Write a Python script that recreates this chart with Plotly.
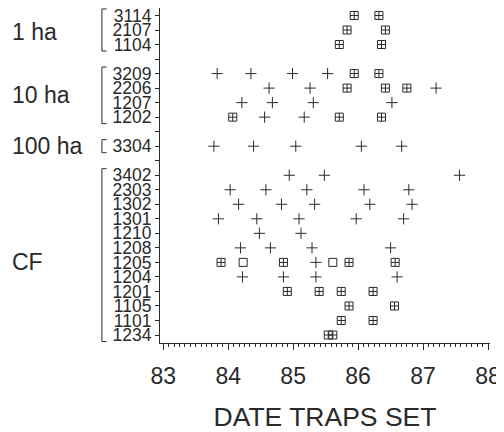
import plotly.graph_objects as go

# Row labels (top to bottom); blank entries are gaps between groups
rows = ["3114", "2107", "1104", "", "3209", "2206", "1207", "1202", "",
        "3304", "", "3402", "2303", "1302", "1301", "1210", "1208", "1205",
        "1204", "1201", "1105", "1101", "1234"]

# Group labels and the rows they span (first, last)
groups = ["1 ha", "10 ha", "100 ha", "CF"]
group_first = ["3114", "3209", "3304", "3402"]
group_last = ["1104", "1202", "3304", "1234"]

# "+" marks
cross_row = ["3209"] * 4 + ["2206"] * 3 + ["1207"] * 4 + ["1202"] * 2 + ["3304"] * 5 + \
            ["3402"] * 3 + ["2303"] * 5 + ["1302"] * 5 + ["1301"] * 5 + ["1210"] * 2 + \
            ["1208"] * 4 + ["1205"] + ["1204"] * 4
cross_date = [83.83, 84.35, 84.99, 85.53,
              84.63, 85.26, 87.20,
              84.21, 84.68, 85.31, 86.52,
              84.56, 85.17,
              83.78, 84.39, 85.04, 86.05, 86.67,
              84.94, 85.48, 87.56,
              84.03, 84.58, 85.21, 86.09, 86.78,
              84.16, 84.82, 85.33, 86.18, 86.83,
              83.85, 84.44, 85.09, 85.97, 86.70,
              84.48, 85.12,
              84.19, 84.65, 85.29, 86.50,
              85.35,
              84.22, 84.85, 85.35, 86.60]

# boxed-cross marks
box_row = ["3114"] * 2 + ["2107"] * 2 + ["1104"] * 2 + ["3209"] * 2 + ["2206"] * 3 + \
          ["1202"] * 3 + ["1205"] * 4 + ["1201"] * 4 + ["1105"] * 2 + ["1101"] * 2 + ["1234"] * 2
box_date = [85.94, 86.32,
            85.83, 86.42,
            85.71, 86.36,
            85.94, 86.32,
            85.83, 86.42, 86.75,
            84.07, 85.71, 86.36,
            83.89, 84.85, 85.86, 86.57,
            84.91, 85.40, 85.74, 86.23,
            85.86, 86.56,
            85.74, 86.23,
            85.54, 85.61]

# open square marks
open_row = ["1205", "1205"]
open_date = [84.23, 85.61]

x_ticks = [83, 84, 85, 86, 87, 88]

INK = "#2a2a2a"
FONT = "Liberation Sans, Arial, Helvetica, sans-serif"


def ypos(lbl):
    return rows.index(lbl)


fig = go.Figure()
fig.add_trace(go.Scatter(
    x=cross_date, y=[ypos(r) for r in cross_row], mode="markers",
    marker=dict(symbol="cross-thin-open", size=8, color=INK, line=dict(color=INK, width=1)),
    showlegend=False))
fig.add_trace(go.Scatter(
    x=box_date, y=[ypos(r) for r in box_row], mode="markers",
    marker=dict(symbol="square-cross-open", size=8, color=INK, line=dict(color=INK, width=1)),
    showlegend=False))
fig.add_trace(go.Scatter(
    x=open_date, y=[ypos(r) for r in open_row], mode="markers",
    marker=dict(symbol="square-open", size=8, color=INK, line=dict(color=INK, width=1)),
    showlegend=False))

# brackets and group labels
shapes = []
annotations = []
bx0, bx1 = -0.176, -0.162
for g, a, b in zip(groups, group_first, group_last):
    y0 = ypos(a) - 0.45
    y1 = ypos(b) + 0.45
    shapes.append(dict(type="path", xref="paper", yref="y",
                       path=f"M {bx1} {y0} L {bx0} {y0} L {bx0} {y1} L {bx1} {y1}",
                       line=dict(color=INK, width=1)))
    yc = (ypos(a) + ypos(b)) / 2
    if g == "CF":
        yc = ypos("1205")
    if g == "1 ha":
        yc = ypos(a) + 1.15
    annotations.append(dict(text=g, xref="paper", yref="y", x=-0.456, y=yc,
                            xanchor="left", yanchor="middle", showarrow=False,
                            font=dict(family=FONT, size=23, color=INK)))

# The page body adds an 8px offset, so the figure is sized to fit the window.
fig.update_layout(
    width=496, height=424,
    margin=dict(l=152, r=14, t=0, b=89),
    paper_bgcolor="white", plot_bgcolor="white",
    shapes=shapes, annotations=annotations,
    xaxis=dict(range=[82.95, 88.03], tickvals=x_ticks, ticktext=[str(v) for v in x_ticks],
               automargin=False,
               showgrid=False, zeroline=False, showline=True, linecolor=INK, linewidth=1,
               ticks="outside", ticklen=6, tickcolor=INK,
               ticklabelstandoff=6,
               minor=dict(dtick=1 / 12, tick0=83, ticks="outside", ticklen=3, tickcolor=INK),
               tickfont=dict(family=FONT, size=23, color=INK),
               title=dict(text="DATE TRAPS SET", font=dict(family=FONT, size=26.5, color=INK),
                          standoff=31)),
    yaxis=dict(range=[22.55, -0.515], tickvals=list(range(len(rows))), ticktext=rows,
               automargin=False, ticklabeloverflow="allow",
               showgrid=False, zeroline=False, showline=True, linecolor=INK, linewidth=1,
               ticks="outside", ticklen=4, tickcolor=INK,
               tickfont=dict(family=FONT, size=17.5, color=INK)),
)

fig.write_html("out.html")
